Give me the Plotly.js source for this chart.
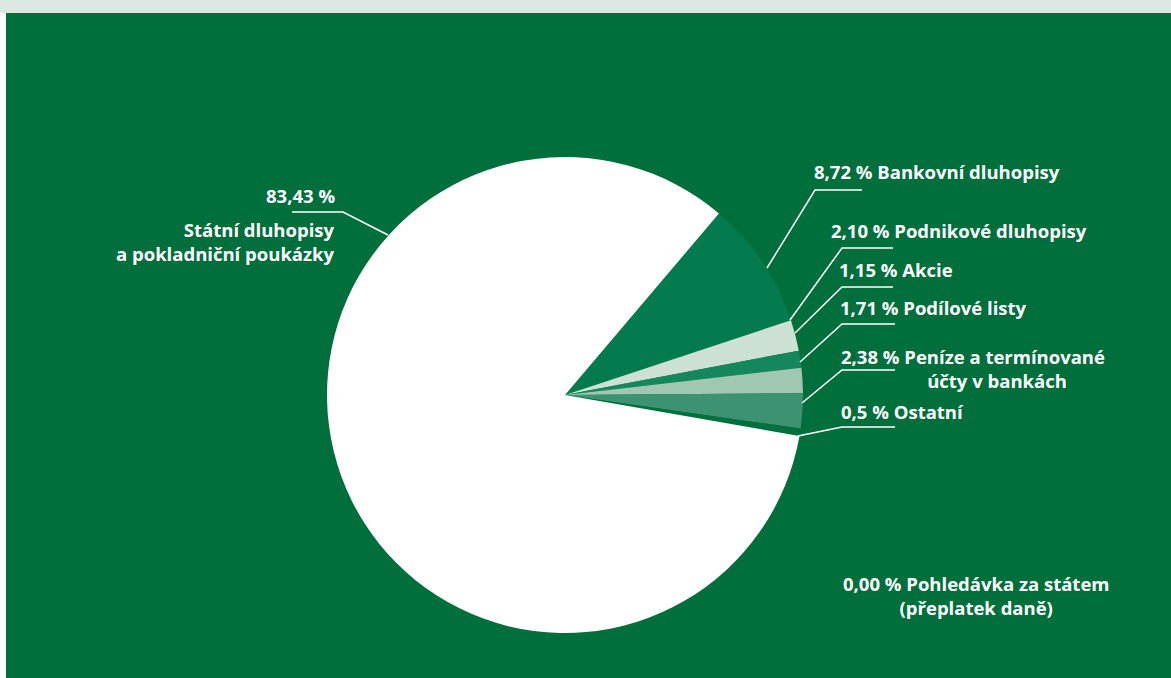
<!DOCTYPE html>
<html><head><meta charset="utf-8">
<script src="https://cdn.plot.ly/plotly-3.0.1.min.js"></script>
<style>html,body{margin:0;padding:0;background:#fff;}#chart{width:1171px;height:678px;}</style>
</head><body><div id="chart"></div>
<script>
// Data
const categories = [
  "Bankovní dluhopisy",
  "Podnikové dluhopisy",
  "Akcie",
  "Podílové listy",
  "Peníze a termínované účty v bankách",
  "Ostatní",
  "Pohledávka za státem (přeplatek daně)",
  "Státní dluhopisy a pokladniční poukázky"
];
const values = [8.72, 2.10, 1.15, 1.71, 2.38, 0.5, 0.00, 83.43];
const valueLabels = ["8,72 %", "2,10 %", "1,15 %", "1,71 %", "2,38 %", "0,5 %", "0,00 %", "83,43 %"];
const colors = ["#047a4f", "#cde0d4", "#14875c", "#9fc7b1", "#3d9272", "#00703e", "#00703e", "#ffffff"];

const W = 1171, H = 678;
const px = x => x / W;
const py = y => 1 - y / H;

// pie geometry (pixels)
const cx = 565, cy = 395, R = 238;
const startDeg = 49.7; // angle (from east, ccw) where first slice begins

const trace = {
  type: "pie",
  values: values,
  labels: categories,
  sort: false,
  direction: "clockwise",
  rotation: 90 - startDeg,
  marker: { colors: colors, line: { width: 0 } },
  textinfo: "none",
  hoverinfo: "skip",
  showlegend: false,
  domain: { x: [px(cx - R), px(cx + R)], y: [py(cy + R), py(cy - R)] }
};

const white = "#ffffff";
const fontFam = "Open Sans, Noto Sans, sans-serif";
const lbl = (i, x, y, extra) => Object.assign({
  xref: "paper", yref: "paper", x: px(x), y: py(y),
  xanchor: "left", yanchor: "middle", showarrow: false,
  text: "<b>" + valueLabels[i] + " " + categories[i] + "</b>",
  font: { family: fontFam, size: 18.5, color: white }
}, extra || {});

const annotations = [
  lbl(0, 812, 171),
  lbl(1, 829, 230),
  lbl(2, 837, 269),
  lbl(3, 838, 307),
  lbl(4, 839, 368, { text: "<b>" + valueLabels[4] + " Peníze a termínované<br>          účty v bankách</b>" }),
  lbl(5, 839, 411),
  lbl(6, 976, 595, { xanchor: "center", align: "center", text: "<b>" + valueLabels[6] + " Pohledávka za státem<br>(přeplatek daně)</b>" }),
  lbl(7, 337, 195, { xanchor: "right", align: "right", text: "<b>" + valueLabels[7] + "</b>" }),
  lbl(7, 337, 241, { xanchor: "right", align: "right", text: "<b>Státní dluhopisy<br>a pokladniční poukázky</b>" })
];

const leaders = [
  [[767,268],[815,190],[862,190]],
  [[790,320],[842,248],[893,248]],
  [[795,333],[842,287],[893,287]],
  [[800,362],[842,324],[895,324]],
  [[802,403],[842,370],[895,370]],
  [[798,436],[842,427],[895,427]],
  [[388,235],[343,212],[292,212]]
];

const shapes = [
  { type: "rect", xref: "paper", yref: "paper", x0: 0, x1: 1, y0: py(13), y1: 1, fillcolor: "#dce9e2", line: { width: 0 }, layer: "below" },
  { type: "rect", xref: "paper", yref: "paper", x0: px(6), x1: 1, y0: 0, y1: py(13), fillcolor: "#006f3c", line: { width: 0 }, layer: "below" }
];
leaders.forEach(p => {
  shapes.push({
    type: "path", xref: "paper", yref: "paper",
    path: "M " + px(p[0][0]) + " " + py(p[0][1]) + " L " + px(p[1][0]) + " " + py(p[1][1]) + " L " + px(p[2][0]) + " " + py(p[2][1]),
    line: { color: white, width: 1.5 }, layer: "above"
  });
});

const layout = {
  width: W, height: H,
  margin: { l: 0, r: 0, t: 0, b: 0 },
  paper_bgcolor: "#ffffff",
  showlegend: false,
  annotations: annotations,
  shapes: shapes
};

Plotly.newPlot("chart", [trace], layout, { displayModeBar: false, staticPlot: true });
</script></body></html>
